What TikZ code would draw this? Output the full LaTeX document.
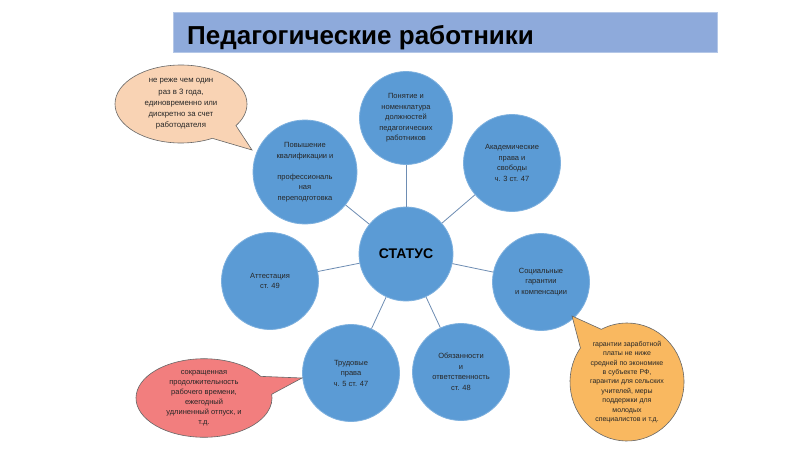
\documentclass[tikz,border=0pt]{standalone}
\usepackage{fontspec}
\setmainfont{Liberation Sans}
\usetikzlibrary{shapes.geometric,shapes.callouts}
\definecolor{circfill}{HTML}{5B9BD5}
\definecolor{circedge}{HTML}{7DB0DE}
\definecolor{linkcol}{HTML}{6E8DB3}
\definecolor{titlefill}{HTML}{8EAADB}
\definecolor{titleedge}{HTML}{B4C7E7}
\definecolor{peach}{HTML}{F9D3B4}
\definecolor{orangec}{HTML}{F9B860}
\definecolor{redc}{HTML}{F27E7E}
\definecolor{txt}{HTML}{262626}
\tikzset{
  topic/.style={circle, fill=circfill, draw=circedge, line width=0.8pt, minimum size=#1, inner sep=0pt,
    align=center, text=txt, font=\fontsize{7.5}{10.5}\selectfont},
  link/.style={draw=linkcol, line width=0.8pt},
  callbox/.style={ellipse callout, draw=gray!80!black, line width=0.6pt, inner sep=0pt, align=center,
    text=txt, callout pointer arc=28},
}
\begin{document}
\begin{tikzpicture}[x=1pt,y=-1pt]
\useasboundingbox[fill=white] (0,0) rectangle (800,450);
% title
\node[draw=titleedge, fill=titlefill, line width=0.8pt, minimum width=544pt, minimum height=40pt, inner sep=0pt, anchor=north west] (titlebar) at (173,12) {};
\node[anchor=base west, inner sep=0pt, font=\bfseries\fontsize{26}{28}\selectfont] (title) at (187,44) {Педагогические работники};
% circles
\node[topic=94pt, font=\bfseries\fontsize{14}{16}\selectfont, text=black] (st) at (406,254) {СТАТУС};
\node[topic=93pt] (c1) at (406,118) {Понятие и\\номенклатура\\должностей\\педагогических\\работников};
\node[topic=104pt] (c2) at (305,172) {Повышение\\квалификации  и\\\\профессиональ\\ная\\переподготовка};
\node[topic=97pt] (c3) at (512,163) {Академические\\права и\\свободы\\ч. 3 ст. 47};
\node[topic=97pt] (c4) at (541,282) {Социальные\\гарантии\\и компенсации};
\node[topic=97pt] (c5) at (270,281) {Аттестация\\ст. 49};
\node[topic=97pt] (c6) at (351,373) {Трудовые\\права\\ч. 5 ст. 47};
\node[topic=97pt] (c7) at (461,372) {Обязанности\\и\\ответственность\\ст. 48};
\foreach \c in {c1,c2,c3,c4,c5,c6,c7} \draw[link] (st) -- (\c);
% callouts
\node[callbox, fill=peach, minimum width=132pt, minimum height=78pt, callout absolute pointer={(252,150)},
  font=\fontsize{7.8}{11.2}\selectfont] (k1) at (181,104) {не реже чем один\\раз в 3 года,\\единовременно или\\дискретно за счет\\работодателя};
\node[callbox, fill=orangec, minimum width=114pt, minimum height=118pt, callout absolute pointer={(572,316)},
  font=\fontsize{7}{9.4}\selectfont] (k2) at (627,382) {гарантии заработной\\платы не ниже\\средней по экономике\\в субъекте РФ,\\гарантии для сельских\\учителей, меры\\поддержки для\\молодых\\специалистов и т.д.};
\node[callbox, fill=redc, minimum width=136pt, minimum height=68pt, callout absolute pointer={(302,378)},
  font=\fontsize{7.5}{10}\selectfont] (k3) at (204,398) {сокращенная\\продолжительность\\рабочего времени,\\ежегодный\\удлиненный отпуск, и\\т.д.};
\end{tikzpicture}
\end{document}
